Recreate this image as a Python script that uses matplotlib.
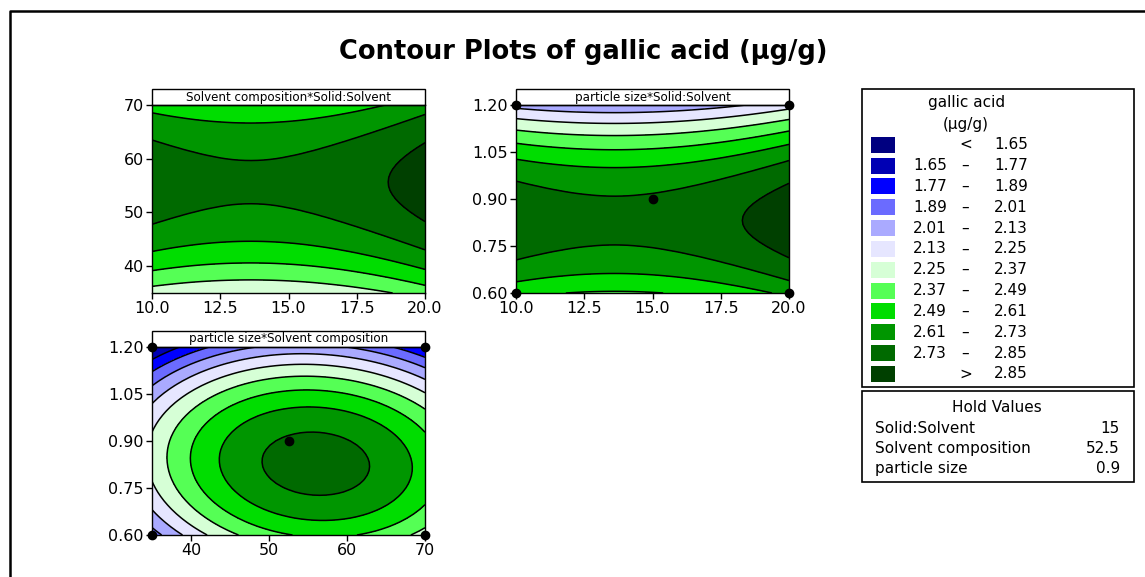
import numpy as np
import matplotlib
matplotlib.use("Agg")
import matplotlib.pyplot as plt
from matplotlib.patches import Rectangle
from matplotlib.ticker import FormatStrFormatter

plt.rcParams["font.family"] = ["DejaVu Sans"]

# Factors of the response-surface design
factor_names = ["Solid:Solvent", "Solvent composition", "particle size"]
factor_low = [10.0, 35.0, 0.6]
factor_high = [20.0, 70.0, 1.2]
hold_values = [15.0, 52.5, 0.9]
hold_labels = ["15", "52.5", "0.9"]

# Fitted quadratic model for gallic acid, in coded units (-1 .. 1)
intercept = 2.745
linear_coef = [0.0555, 0.1255, -0.22]
square_coef = [0.0998, -0.35, -0.48]
interaction_pairs = [(0, 1), (0, 2), (1, 2)]
interaction_coef = [0.0, 0.0, -0.06]

# Contour breaks and fill colours (lowest to highest)
contour_levels = [1.65, 1.77, 1.89, 2.01, 2.13, 2.25, 2.37, 2.49, 2.61, 2.73, 2.85]
level_colors = ["#000080", "#0000B4", "#0000FF", "#6B6BFF", "#AAAAFF", "#E6E6FF",
                "#D6FFD6", "#55FF55", "#00DD00", "#009600", "#006A00", "#004000"]

# Panel definitions: x factor, y factor, x ticks, y ticks, tick formats, heading
panel_x = [0, 0, 1]
panel_y = [1, 2, 2]
panel_xticks = [[10.0, 12.5, 15.0, 17.5, 20.0], [10.0, 12.5, 15.0, 17.5, 20.0], [40, 50, 60, 70]]
panel_yticks = [[40, 50, 60, 70], [0.60, 0.75, 0.90, 1.05, 1.20], [0.60, 0.75, 0.90, 1.05, 1.20]]
panel_xfmt = ["%.1f", "%.1f", "%.0f"]
panel_yfmt = ["%.0f", "%.2f", "%.2f"]
panel_titles = ["Solvent composition*Solid:Solvent",
                "particle size*Solid:Solvent",
                "particle size*Solvent composition"]

# Design points marked on each panel
points_x = [[], [10, 10, 20, 20, 15], [35, 35, 70, 70, 52.5]]
points_y = [[], [0.6, 1.2, 0.6, 1.2, 0.9], [0.6, 1.2, 0.6, 1.2, 0.9]]


def coded(i, v):
    mid = (factor_low[i] + factor_high[i]) / 2.0
    half = (factor_high[i] - factor_low[i]) / 2.0
    return (v - mid) / half


def predict(values):
    z = [coded(i, v) for i, v in enumerate(values)]
    y = intercept
    for i in range(3):
        y = y + linear_coef[i] * z[i] + square_coef[i] * z[i] ** 2
    for (i, j), c in zip(interaction_pairs, interaction_coef):
        y = y + c * z[i] * z[j]
    return y


W, H = 1145, 577
fig = plt.figure(figsize=(W / 100, H / 100), dpi=100)

# Overlay in pixel coordinates for frame, title, legend and hold box
ov = fig.add_axes([0, 0, 1, 1], zorder=-1)
ov.set_xlim(0, W)
ov.set_ylim(H, 0)
ov.axis("off")
ov.plot([10, 10, W + 5], [H + 5, 11, 11], color="black", lw=1.8, solid_capstyle="butt")
ov.text(583, 52, "Contour Plots of gallic acid (μg/g)", ha="center", va="center",
        fontsize=18.5, fontweight="bold")

# Panel placement in pixels: left, top
panel_pos = [(152, 105), (516, 105), (152, 347)]
pw, ph = 273, 188

for k in range(3):
    left, top = panel_pos[k]
    ax = fig.add_axes([left / W, 1 - (top + ph) / H, pw / W, ph / H])
    fx, fy = panel_x[k], panel_y[k]
    xs = np.linspace(factor_low[fx], factor_high[fx], 45)
    ys = np.linspace(factor_low[fy], factor_high[fy], 45)
    X, Y = np.meshgrid(xs, ys)
    vals = [np.full_like(X, hold_values[i]) for i in range(3)]
    vals[fx] = X
    vals[fy] = Y
    Z = predict(vals)
    fill_levels = [-100.0] + contour_levels + [100.0]
    ax.contourf(X, Y, Z, levels=fill_levels, colors=level_colors)
    ax.contour(X, Y, Z, levels=contour_levels, colors="black", linewidths=1.1)
    if points_x[k]:
        ax.plot(points_x[k], points_y[k], "o", color="black", ms=6, clip_on=False, zorder=5)
    ax.set_xlim(factor_low[fx], factor_high[fx])
    ax.set_ylim(factor_low[fy], factor_high[fy])
    ax.set_xticks(panel_xticks[k])
    ax.set_yticks(panel_yticks[k])
    ax.xaxis.set_major_formatter(FormatStrFormatter(panel_xfmt[k]))
    ax.yaxis.set_major_formatter(FormatStrFormatter(panel_yfmt[k]))
    ax.tick_params(direction="out", length=4, width=1, labelsize=11.5, pad=2)
    for s in ax.spines.values():
        s.set_linewidth(1.0)
    # heading strip above the panel
    hh = 16 / ph
    ax.add_patch(Rectangle((0, 1), 1, hh, transform=ax.transAxes, facecolor="white",
                           edgecolor="black", lw=1.0, clip_on=False))
    ax.text(0.5, 1 + hh / 2, panel_titles[k], transform=ax.transAxes, ha="center",
            va="center", fontsize=8.6)

# Legend box
ov.add_patch(Rectangle((862, 89), 272, 298, facecolor="white", edgecolor="black", lw=1.2))
ov.text(967, 102, "gallic acid", ha="center", va="center", fontsize=11)
ov.text(966, 125, "(μg/g)", ha="center", va="center", fontsize=11)
row0, step = 144.7, 20.83
n = len(level_colors)
for r in range(n):
    yc = row0 + r * step
    ov.add_patch(Rectangle((871, yc - 8), 24, 16, facecolor=level_colors[r], edgecolor="none"))
    if r == 0:
        ov.text(966, yc, "<", ha="center", va="center", fontsize=11)
        ov.text(1028, yc, "%.2f" % contour_levels[0], ha="right", va="center", fontsize=11)
    elif r == n - 1:
        ov.text(966, yc, ">", ha="center", va="center", fontsize=11)
        ov.text(1028, yc, "%.2f" % contour_levels[-1], ha="right", va="center", fontsize=11)
    else:
        ov.text(947, yc, "%.2f" % contour_levels[r - 1], ha="right", va="center", fontsize=11)
        ov.text(965, yc, "–", ha="center", va="center", fontsize=11)
        ov.text(1028, yc, "%.2f" % contour_levels[r], ha="right", va="center", fontsize=11)

# Hold values box
ov.add_patch(Rectangle((862, 391), 272, 91, facecolor="white", edgecolor="black", lw=1.2))
ov.text(997, 408, "Hold Values", ha="center", va="center", fontsize=11)
for r in range(3):
    yc = 428.3 + r * 20
    ov.text(875, yc, factor_names[r], ha="left", va="center", fontsize=11)
    ov.text(1120, yc, hold_labels[r], ha="right", va="center", fontsize=11)

fig.savefig("out.png", dpi=100)
